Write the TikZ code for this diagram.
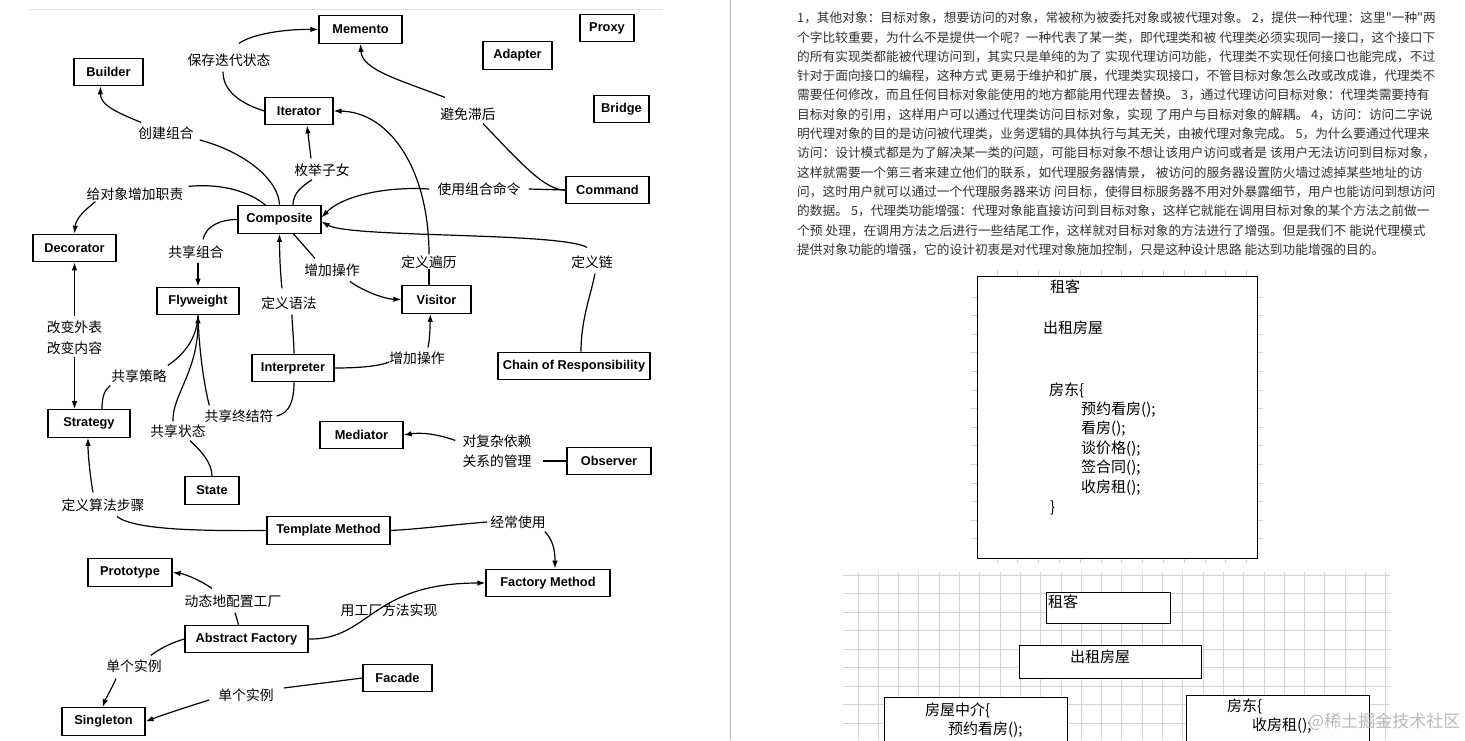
\documentclass[tikz,border=0pt]{standalone}
\usepackage{fontspec}
\setmainfont{Liberation Sans}
\newfontfamily\cjk{Noto Sans CJK SC}
\usetikzlibrary{arrows.meta}
\XeTeXlinebreaklocale "zh"
\XeTeXlinebreakskip=0pt plus 1pt minus 0.3pt
\definecolor{paratext}{HTML}{333333}
\definecolor{gridc}{HTML}{D4D4D4}
\newcommand\plinebox[2][636pt]{\hbox to #1{\spaceskip=3pt\relax #2}}
\begin{document}
\begin{tikzpicture}[x=1pt,y=-1pt,
  pbox/.style={draw, line width=1.2pt, inner sep=0pt, minimum height=27.5pt, font=\bfseries\fontsize{12.8}{12.8}\selectfont},
  lbl/.style={inner sep=0pt, font=\cjk\fontsize{13.8}{13.8}\selectfont},
  conn/.style={line width=1.2pt},
  arr/.style={conn, -{Latex[length=8pt,width=5.5pt]}},
  para/.style={anchor=west, inner sep=0pt, text=paratext, font=\cjk\fontsize{12.7}{12.7}\selectfont},
  rtext/.style={anchor=west, inner sep=0pt, font=\cjk\fontsize{15}{15}\selectfont},
  rbox/.style={draw, line width=1pt, fill=white}
]
\useasboundingbox (0,0) rectangle (1465,740);
\fill[white] (0,0) rectangle (1465,740);
\draw[gray!25, line width=1pt] (28,9) -- (662,9);
\draw[gray!55, line width=1pt] (730.5,0) -- (730.5,740);

% ---------------- pattern boxes
\node[pbox, minimum width=69pt] (builder) at (108.5,72) {Builder};
\node[pbox, minimum width=83pt] (memento) at (360.5,29.5) {Memento};
\node[pbox, minimum width=54pt] (proxy) at (607,28) {Proxy};
\node[pbox, minimum width=69pt] (adapter) at (517.5,55.5) {Adapter};
\node[pbox, minimum width=55pt] (bridge) at (621.5,109) {Bridge};
\node[pbox, minimum width=83pt] (command) at (607.5,190) {Command};
\node[pbox, minimum width=68pt] (iter) at (299,111) {Iterator};
\node[pbox, minimum width=83pt] (composite) at (279.5,219.5) {Composite};
\node[pbox, minimum width=83pt] (decorator) at (74.5,248) {Decorator};
\node[pbox, minimum width=82pt] (flyweight) at (198,301) {Flyweight};
\node[pbox, minimum width=82pt] (interp) at (293,368) {Interpreter};
\node[pbox, minimum width=82pt] (strategy) at (89,423.5) {Strategy};
\node[pbox, minimum width=54pt] (state) at (212,490.5) {State};
\node[pbox, minimum width=69pt] (visitor) at (436.5,299.5) {Visitor};
\node[pbox, minimum width=152pt] (chain) at (574,366) {Chain of Responsibility};
\node[pbox, minimum width=83pt] (mediator) at (361.5,435) {Mediator};
\node[pbox, minimum width=84pt] (observer) at (609,461) {Observer};
\node[pbox, minimum width=123pt] (template) at (328.5,530.5) {Template Method};
\node[pbox, minimum width=84pt] (prototype) at (130,572.5) {Prototype};
\node[pbox, minimum width=123pt] (af) at (246.5,639) {Abstract Factory};
\node[pbox, minimum width=83pt] (singleton) at (103.5,721.5) {Singleton};
\node[pbox, minimum width=124pt] (fm) at (548,583) {Factory Method};
\node[pbox, minimum width=69pt] (facade) at (397.5,678) {Facade};

% ---------------- labels
\node[lbl] (lsave) at (229,60) {保存迭代状态};
\node[lbl] (lbuild) at (166,133) {创建组合};
\node[lbl] (lenum) at (322,170) {枚举子女};
\node[lbl] (ldeco) at (135,194) {给对象增加职责};
\node[lbl] (lcmd) at (479,189) {使用组合命令};
\node[lbl] (lavoid) at (468,114) {避免滞后};
\node[lbl] (lshare) at (196,252) {共享组合};
\node[lbl] (laddop) at (332,270) {增加操作};
\node[lbl] (ltrav) at (429,262) {定义遍历};
\node[lbl] (lchain) at (592,262) {定义链};
\node[lbl] (lgram) at (289,303) {定义语法};
\node[lbl, align=center, font=\cjk\fontsize{13.8}{21}\selectfont] (lchg) at (74.5,337.5) {改变外表\\改变内容};
\node[lbl] (lstrat) at (139,376) {共享策略};
\node[lbl] (lstate) at (178,431) {共享状态};
\node[lbl] (lterm) at (239,416) {共享终结符};
\node[lbl] (laddop2) at (417,358) {增加操作};
\node[lbl, align=center, font=\cjk\fontsize{13.8}{20}\selectfont] (lmed) at (497,451) {对复杂依赖\\关系的管理};
\node[lbl] (lalg) at (103,505) {定义算法步骤};
\node[lbl] (loften) at (518,522) {经常使用};
\node[lbl] (ldyn) at (233,601) {动态地配置工厂};
\node[lbl] (lfm) at (389,610) {用工厂方法实现};
\node[lbl] (lsing1) at (134,666) {单个实例};
\node[lbl] (lsing2) at (246,695) {单个实例};

% ---------------- connectors
\draw[conn] (iter.west) .. controls (242,104) and (223,92) .. ([xshift=-6pt,yshift=-5pt]lsave.south);
\draw[arr] ([xshift=10pt,yshift=10pt]lsave.north) .. controls (252,34) and (285,29) .. (memento.west);

\draw[conn] (command.west) .. controls (545,191) and (518,160) .. ([xshift=15pt,yshift=-3pt]lavoid.south);
\draw[arr] ([xshift=-23pt,yshift=10pt]lavoid.north) .. controls (400,80) and (362,70) .. (memento.south);

\draw[conn] (composite.north) .. controls (279,180) and (245,152) .. ([xshift=6pt,yshift=-7pt]lbuild.east);
\draw[arr] ([xshift=3pt,yshift=4pt]lbuild.north west) .. controls (118,113) and (100,105) .. ([xshift=-8pt]builder.south);

\draw[conn] ([xshift=13.5pt]composite.north) .. controls (293,192) and (303,186) .. ([xshift=-10pt,yshift=-3pt]lenum.south);
\draw[arr] ([xshift=-11pt,yshift=5pt]lenum.north) -- ([xshift=8pt]iter.south);

\draw[conn] ([xshift=-14pt]composite.north) .. controls (250,192) and (222,183) .. ([xshift=5pt,yshift=1pt]ldeco.north east);
\draw[arr] ([xshift=9pt,yshift=-1pt]ldeco.south west) .. controls (85,210) and (76,218) .. (decorator.north);

\draw[conn] (command.west) -- ([xshift=8pt]lcmd.east);
\draw[arr] ([xshift=-8pt]lcmd.west) .. controls (380,186) and (340,198) .. ([yshift=2pt]composite.east);

\draw[conn] ([xshift=7pt]chain.north) .. controls (581,320) and (590,298) .. ([xshift=3pt,yshift=-5pt]lchain.south);
\draw[arr] ([xshift=-5pt,yshift=8pt]lchain.north) .. controls (560,232) and (350,238) .. ([yshift=-2pt]composite.east);

\draw[conn] ([xshift=14pt]composite.south) -- ([xshift=-17pt,yshift=5pt]laddop.north);
\draw[arr] ([xshift=18pt,yshift=-5pt]laddop.south) .. controls (365,292) and (385,299) .. (visitor.west);

\draw[arr] ([yshift=1pt]ltrav.north) .. controls (429,170) and (390,112) .. (iter.east);
\draw[conn] (ltrav.south) -- ([xshift=-7.5pt]visitor.north);

\draw[conn] ([xshift=1pt]interp.north) .. controls (294,340) and (292,325) .. ([xshift=3pt,yshift=-5pt]lgram.south);
\draw[arr] ([xshift=-7pt,yshift=8pt]lgram.north) .. controls (280,270) and (279.5,250) .. (composite.south);

\draw[conn] (interp.east) .. controls (360,368) and (380,366) .. ([yshift=-4pt]laddop2.west);
\draw[arr] ([xshift=11pt,yshift=4pt]laddop2.north) .. controls (430,338) and (430,326) .. ([xshift=-6pt]visitor.south);

\draw[conn] (composite.west) .. controls (220,219.5) and (206,226) .. ([xshift=7pt,yshift=6pt]lshare.north);
\draw[arr] ([xshift=2pt,yshift=-4pt]lshare.south) -- (flyweight.north);

\draw[arr] ([yshift=4pt]lchg.north) -- (decorator.south);
\draw[arr] ([yshift=-2pt]lchg.south) -- ([xshift=-14.5pt]strategy.north);

\draw[conn] ([xshift=13pt]strategy.north) .. controls (102,398) and (104,390) .. ([xshift=-1pt,yshift=-3pt]lstrat.south west);
\draw[conn] ([xshift=1pt,yshift=4pt]lstrat.north east) .. controls (182,356) and (197,340) .. (flyweight.south);

\draw[conn] (state.north) .. controls (212,462) and (200,450) .. ([xshift=12pt,yshift=-3pt]lstate.south);
\draw[arr] ([xshift=-5pt,yshift=3pt]lstate.north) .. controls (172,395) and (198,372) .. (flyweight.south);

\draw[conn] ([xshift=1pt]interp.south) .. controls (294,400) and (290,413) .. ([xshift=3pt]lterm.east);
\draw[conn] ([xshift=5pt,yshift=4pt]lterm.north west) .. controls (204,385) and (199,350) .. (flyweight.south);

\draw[conn] (observer.west) -- ([xshift=11pt,yshift=-10pt]lmed.east);
\draw[arr] ([xshift=-7pt,yshift=-6pt]lmed.north west) .. controls (432,432) and (416,433) .. (mediator.east);

\draw[conn] (template.west) .. controls (200,531) and (135,530) .. ([xshift=14pt,yshift=-5pt]lalg.south);
\draw[arr] ([xshift=-10pt,yshift=6pt]lalg.north) .. controls (90,475) and (88,455) .. ([xshift=-1pt]strategy.south);

\draw[conn] (template.east) .. controls (420,529) and (460,524) .. ([xshift=-3pt]loften.west);
\draw[arr] ([xshift=-1pt,yshift=-3pt]loften.south east) .. controls (553,540) and (555,550) .. ([xshift=7pt]fm.north);

\draw[conn] ([xshift=-8pt]af.north) -- ([xshift=2pt,yshift=-5pt]ldyn.south);
\draw[arr] ([xshift=-21pt,yshift=6pt]ldyn.north) .. controls (200,580) and (185,574) .. (prototype.east);

\draw[arr] (af.east) .. controls (370,640) and (370,583) .. (fm.west);

\draw[conn] (af.west) .. controls (170,643) and (158,650) .. ([xshift=-11pt,yshift=4pt]lsing1.north east);
\draw[arr] ([xshift=-18pt,yshift=-6pt]lsing1.south) .. controls (112,688) and (106,698) .. ([xshift=-1pt]singleton.north);

\draw[conn] (facade.west) -- ([xshift=10pt,yshift=7pt]lsing2.east);
\draw[arr] ([xshift=-9pt,yshift=-5pt]lsing2.west) .. controls (190,706) and (165,714) .. (singleton.east);

% ---------------- right panel: paragraph
\node[para] (p1) at (797,18) {\plinebox{1，其他对象：目标对象，想要访问的对象，常被称为被委托对象或被代理对象。 2，提供一种代理：这里"一种"两}};
\node[para] (p2) at (797,37.3) {\plinebox{个字比较重要，为什么不是提供一个呢？一种代表了某一类，即代理类和被 代理类必须实现同一接口，这个接口下}};
\node[para] (p3) at (797,56.6) {\plinebox{的所有实现类都能被代理访问到，其实只是单纯的为了 实现代理访问功能，代理类不实现任何接口也能完成，不过}};
\node[para] (p4) at (797,75.9) {\plinebox{针对于面向接口的编程，这种方式 更易于维护和扩展，代理类实现接口，不管目标对象怎么改或改成谁，代理类不}};
\node[para] (p5) at (797,95.2) {\plinebox{需要任何修改，而且任何目标对象能使用的地方都能用代理去替换。 3，通过代理访问目标对象：代理类需要持有}};
\node[para] (p6) at (797,114.5) {\plinebox{目标对象的引用，这样用户可以通过代理类访问目标对象，实现 了用户与目标对象的解耦。 4，访问：访问二字说}};
\node[para] (p7) at (797,133.8) {\plinebox{明代理对象的目的是访问被代理类，业务逻辑的具体执行与其无关，由被代理对象完成。 5，为什么要通过代理来}};
\node[para] (p8) at (797,153.1) {\plinebox{访问：设计模式都是为了解决某一类的问题，可能目标对象不想让该用户访问或者是 该用户无法访问到目标对象，}};
\node[para] (p9) at (797,172.4) {\plinebox{这样就需要一个第三者来建立他们的联系，如代理服务器情景， 被访问的服务器设置防火墙过滤掉某些地址的访}};
\node[para] (p10) at (797,191.7) {\plinebox{问，这时用户就可以通过一个代理服务器来访 问目标，使得目标服务器不用对外暴露细节，用户也能访问到想访问}};
\node[para] (p11) at (797,211) {\plinebox{的数据。 5，代理类功能增强：代理对象能直接访问到目标对象，这样它就能在调用目标对象的某个方法之前做一}};
\node[para] (p12) at (797,230.3) {\plinebox[630pt]{个预 处理，在调用方法之后进行一些结尾工作，这样就对目标对象的方法进行了增强。但是我们不 能说代理模式}};
\node[para] (p13) at (797,249.6) {提供对象功能的增强，它的设计初衷是对代理对象施加控制，只是这种设计思路 能达到功能增强的目的。};

% ---------------- right panel: first drawing
\foreach \k in {0,...,12} {
  \draw[gray!35, line width=0.8pt] (997+20.8*\k,270) -- (997+20.8*\k,276);
  \draw[gray!35, line width=0.8pt] (997+20.8*\k,558) -- (997+20.8*\k,563);
}
\foreach \k in {0,...,13} {
  \draw[gray!35, line width=0.8pt] (971,297+18.6*\k) -- (977,297+18.6*\k);
  \draw[gray!35, line width=0.8pt] (1257,297+18.6*\k) -- (1263,297+18.6*\k);
}
\node[rbox, minimum width=280pt, minimum height=282pt, inner sep=0pt] (house) at (1117,417) {};
\node[rtext] (t1) at (1050,287) {租客};
\node[rtext] (t2) at (1043,328) {出租房屋};
\node[rtext] (t3) at (1049,390) {房东\{};
\node[rtext] (t4) at (1081,410) {预约看房();};
\node[rtext] (t5) at (1081,429) {看房();};
\node[rtext] (t6) at (1081,449) {谈价格();};
\node[rtext] (t7) at (1081,468) {签合同();};
\node[rtext] (t8) at (1081,488) {收房租();};
\node[rtext] (t9) at (1050,508) {\}};

% ---------------- right panel: second drawing on grid
\foreach \k in {0,...,26} {
  \draw[gridc, line width=1pt] (858+20.3*\k,572) -- (858+20.3*\k,740);
}
\foreach \k in {0,...,9} {
  \draw[gridc, line width=1pt] (843,575+18.5*\k) -- (1390,575+18.5*\k);
}
\node[rbox, minimum width=124pt, minimum height=31pt, inner sep=0pt] (g1) at (1108,607.5) {};
\node[rtext] (g1t) at (1048,602) {租客};
\node[rbox, minimum width=182pt, minimum height=33pt, inner sep=0pt] (g2) at (1110,661.5) {};
\node[rtext, anchor=center] (g2t) at (1100,657) {出租房屋};
\draw[rbox] (884,745) -- (884,697) -- (1067,697) -- (1067,745);
\node[rtext] (g3t) at (925,710) {房屋中介\{};
\node[rtext] (g3u) at (948,730) {预约看房();};
\draw[rbox] (1186,745) -- (1186,695) -- (1369,695) -- (1369,745);
\node[rtext] (g4t) at (1227,706) {房东\{};
\node[rtext] (g4u) at (1252,726) {收房租();};
\node[anchor=west, inner sep=0pt, text=gray!55, font=\cjk\fontsize{17}{17}\selectfont] (wm) at (1308,722) {@稀土掘金技术社区};
\end{tikzpicture}
\end{document}
